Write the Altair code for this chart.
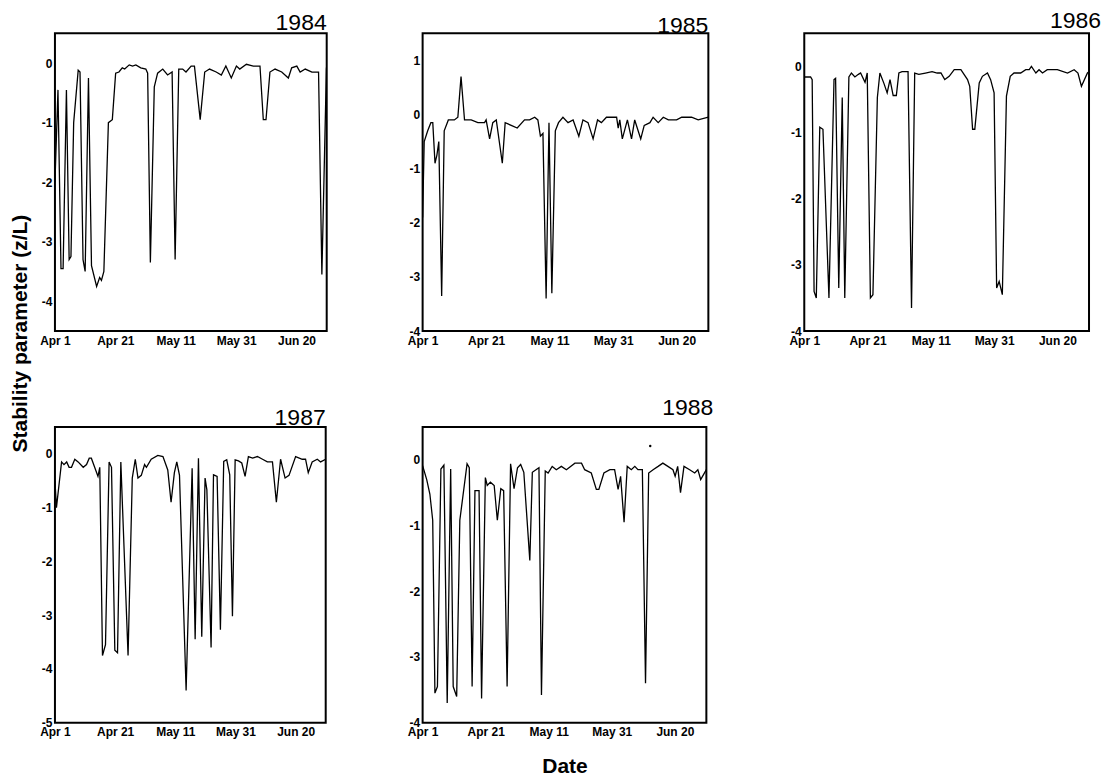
import altair as alt
import pandas as pd

FONT = "Liberation Sans"

# ---- data (day offset from Apr 1, stability parameter z/L) ----
days_1984 = [0, 1, 2, 2.7, 3.8, 4.7, 5.3, 6.2, 7.7, 8.3, 9.3, 10, 11.1, 12.1, 13.8, 14.8, 15.4, 16.2, 17.7, 19,
             20.1, 21.2, 22.3, 23.1, 24.6, 25.7, 26.8, 28.4, 30.1, 30.7, 31.6, 32.9, 34, 35.7, 37.3, 38.8, 39.8,
             41, 42.3, 43.4, 45.1, 46.2, 48.1, 49.6, 51.2, 53.4, 55.1, 56.6, 58.4, 60.1, 61.2, 63.4, 65.7, 67.9,
             69, 69.9, 71.2, 72.9, 75.1, 77.3, 78.4, 80.1, 81.2, 82.9, 85.1, 87.3, 88.4, 89.9, 90]
vals_1984 = [-2.0, -0.45, -3.45, -3.45, -0.45, -3.3, -3.25, -1.0, -0.12, -0.15, -3.3, -3.5, -0.25, -3.4, -3.75,
             -3.6, -3.65, -3.5, -1.0, -0.95, -0.17, -0.15, -0.08, -0.1, -0.03, -0.05, -0.03, -0.08, -0.1, -0.17,
             -3.35, -0.4, -0.17, -0.1, -0.2, -0.15, -3.3, -0.1, -0.1, -0.15, -0.05, -0.05, -0.95, -0.15, -0.1,
             -0.15, -0.2, -0.05, -0.25, -0.05, -0.1, -0.02, -0.05, -0.05, -0.95, -0.95, -0.15, -0.1, -0.15, -0.25,
             -0.08, -0.05, -0.15, -0.1, -0.15, -0.15, -3.55, -0.1, -0.05]

days_1985 = [0, 0.5, 1.6, 2.6, 3.2, 3.9, 4.5, 5.1, 6, 6.8, 8.1, 10, 11.1, 12.1, 13.2, 15.3, 17.4, 19.5, 20, 21.1,
             22.1, 23.2, 25.1, 26, 27.9, 29.8, 32.1, 33.7, 35.3, 36.3, 37.1, 37.9, 38.9, 39.8, 40.7, 41.8, 42.8,
             44.2, 45.8, 47.4, 49.2, 50.5, 52.1, 53.7, 55.1, 56.3, 57.9, 60, 61.1, 61.6, 62.1, 62.9, 64.5, 65.8,
             66.8, 68.7, 69.8, 71.6, 72.6, 74.2, 75.8, 77.4, 80, 81.6, 84.7, 86.8, 90]
vals_1985 = [-1.9, -0.5, -0.3, -0.15, -0.15, -0.9, -0.75, -0.5, -3.35, -0.3, -0.1, -0.1, -0.05, 0.7, -0.1, -0.1,
             -0.15, -0.15, -0.1, -0.45, -0.15, -0.1, -0.9, -0.15, -0.2, -0.25, -0.1, -0.1, -0.05, -0.1, -0.4,
             -0.35, -3.4, -0.15, -3.3, -0.3, -0.15, -0.05, -0.15, -0.1, -0.4, -0.1, -0.15, -0.45, -0.1, -0.15,
             -0.05, -0.05, -0.05, -0.25, -0.1, -0.45, -0.1, -0.45, -0.1, -0.45, -0.2, -0.15, -0.05, -0.15, -0.05,
             -0.1, -0.1, -0.05, -0.05, -0.1, -0.05]

days_1986 = [0, 2, 2.5, 3.1, 3.8, 4.9, 5.9, 7.8, 9.4, 9.9, 10.9, 12, 12.8, 14.1, 14.9, 16, 17.1, 17.8, 19.2, 19.9,
             20.9, 21.7, 23.1, 23.9, 25.2, 26.2, 27.1, 28.1, 29.1, 29.9, 30.9, 32.8, 33.9, 34.9, 36.2, 38.3, 40.4,
             42, 43.2, 44.4, 45.8, 47.4, 49.5, 51.6, 52.3, 53.2, 53.9, 55.3, 56.3, 57.9, 58.9, 60, 60.8, 61.6,
             62.6, 63.9, 65.1, 66.3, 68.4, 70, 71.1, 71.8, 73.2, 74.2, 75.3, 76.8, 80, 83.2, 85.3, 86.5, 87.6,
             89.5, 90]
vals_1986 = [-0.16, -0.16, -0.2, -3.4, -3.5, -0.92, -0.95, -3.5, -0.2, -0.18, -3.35, -0.47, -3.5, -0.16, -0.1,
             -0.16, -0.12, -0.1, -0.24, -0.1, -3.5, -3.45, -0.47, -0.1, -0.26, -0.4, -0.2, -0.44, -0.44, -0.1,
             -0.08, -0.08, -3.65, -0.1, -0.12, -0.1, -0.08, -0.1, -0.1, -0.2, -0.15, -0.05, -0.05, -0.2, -0.3,
             -0.95, -0.95, -0.25, -0.15, -0.1, -0.2, -0.4, -3.35, -3.25, -3.45, -0.45, -0.15, -0.1, -0.1, -0.05,
             -0.05, 0.0, -0.1, -0.05, -0.1, -0.05, -0.05, -0.1, -0.05, -0.1, -0.3, -0.1, -0.08]

days_1987 = [0, 0.5, 2.2, 3, 3.9, 4.7, 5.5, 6.6, 7.7, 9.4, 10.5, 11.4, 12.1, 13.2, 14.3, 14.9, 15.8, 16.8, 18,
             18.8, 19.9, 20.8, 21.9, 24.3, 25.7, 26.7, 27.6, 28.7, 29.8, 30.4, 32, 34.2, 35.9, 37.5, 38.6, 39.7,
             40.5, 41.4, 43.6, 45.6, 46.6, 47.7, 48.8, 49.9, 50.5, 51.9, 52.7, 53.9, 55, 56.1, 57.1, 58.1, 59,
             59.9, 61, 62.1, 63.2, 64.3, 65.7, 67.3, 69, 70.6, 72.3, 73.6, 75, 76.5, 77.8, 80, 82.2, 83.3, 84.2,
             85.5, 87.2, 88.3, 90]
vals_1987 = [-0.5, -1.0, -0.15, -0.2, -0.15, -0.25, -0.25, -0.1, -0.15, -0.25, -0.2, -0.08, -0.08, -0.25, -0.42,
             -0.25, -3.75, -3.55, -0.15, -0.25, -3.65, -3.7, -0.15, -3.75, -0.45, -0.1, -0.45, -0.4, -0.2, -0.25,
             -0.1, -0.03, -0.05, -0.3, -0.9, -0.35, -0.15, -0.4, -4.4, -0.27, -3.45, -0.08, -3.4, -0.45, -0.67,
             -3.6, -0.39, -0.42, -3.27, -0.14, -0.11, -0.39, -3.02, -0.11, -0.13, -0.17, -0.42, -0.05, -0.08,
             -0.05, -0.1, -0.15, -0.15, -0.9, -0.1, -0.45, -0.4, -0.05, -0.1, -0.1, -0.35, -0.15, -0.1, -0.15,
             -0.1]

days_1988 = [0, 1.3, 2.3, 3.2, 3.9, 4.7, 5.8, 6.75, 7.8, 8.9, 9.7, 10.8, 11.8, 14.1, 14.8, 15.7, 16.6, 17.9,
             18.7, 19.9, 20.5, 21.5, 22.7, 23.7, 24.8, 25.7, 26.8, 27.9, 29, 30.1, 31.1, 32.1, 34, 34.8, 36.3,
             36.9, 37.7, 38.9, 39.8, 41.1, 42.4, 44, 45.6, 48.3, 50.4, 51.4, 53.5, 55.1, 55.9, 57.5, 59.4, 60.9,
             62, 62.8, 63.9, 64.9, 66.2, 67.3, 68.3, 69.7, 70.7, 71.7, 73.1, 74.7, 76.2, 77.8, 79.4, 80.1, 80.9,
             81.8, 82.9, 84.7, 86.3, 87.3, 88.2, 90]
vals_1988 = [-0.09, -0.3, -0.52, -0.92, -3.55, -3.45, -0.14, -0.08, -3.7, -0.14, -3.45, -3.6, -0.92, -0.06,
             -0.12, -3.45, -0.47, -0.47, -3.63, -0.27, -0.39, -0.34, -0.39, -0.92, -0.44, -0.47, -3.45, -0.06,
             -0.44, -0.12, -0.07, -0.19, -1.53, -0.19, -0.14, -0.12, -3.58, -0.17, -0.2, -0.1, -0.15, -0.1,
             -0.15, -0.05, -0.05, -0.15, -0.2, -0.45, -0.45, -0.2, -0.15, -0.15, -0.45, -0.25, -0.95, -0.1,
             -0.15, -0.1, -0.15, -0.15, -3.4, -0.2, -0.15, -0.1, -0.05, -0.1, -0.15, -0.25, -0.1, -0.5, -0.1,
             -0.15, -0.2, -0.15, -0.3, -0.15]
# isolated point in 1988
dot_1988_day = [72.2]
dot_1988_val = [0.21]

x_tick_days = [0, 20, 40, 60, 80]
x_tick_labels = ["Apr 1", "Apr 21", "May 11", "May 31", "Jun 20"]


def panel(year, days, vals, ydom, yticks, width, height, t_gap, t_dx,
          ytitle=False, xtitle=False, dots=None):
    df = pd.DataFrame({"day": days, "z": vals})
    label_expr = "[" + ",".join("'%s'" % s for s in x_tick_labels) + "][round(datum.value/20)]"
    xa = dict(values=x_tick_days, labelExpr=label_expr, labelFlush=False, ticks=False,
              domain=False, grid=False, labelPadding=4, labelFontSize=12, labelFontWeight="bold",
              labelFont=FONT, labelColor="black", title=None)
    if xtitle:
        xa.update(title="Date", titleFontSize=21, titleFontWeight="bold", titleFont=FONT,
                  titleColor="black", titleBaseline="alphabetic", titleY=50)
    ya = dict(values=yticks, labelExpr="'' + datum.value", ticks=False, domain=False, grid=False,
              labelPadding=3, labelFontSize=12, labelFontWeight="bold", labelFont=FONT,
              labelColor="black", title=None)
    if ytitle:
        ya.update(title="Stability parameter (z/L)", titleX=-34, titleY=-94, titleAngle=270,
                  titleAlign="center", titleBaseline="middle", titleFontSize=21,
                  titleFontWeight="bold", titleFont=FONT, titleColor="black")
    xs = alt.Scale(domain=[0, 90], nice=False, zero=False)
    ys = alt.Scale(domain=ydom, nice=False, zero=False)
    line = alt.Chart(df).mark_line(color="black", strokeWidth=1.3, clip=True).encode(
        x=alt.X("day:Q", scale=xs, axis=alt.Axis(**xa)),
        y=alt.Y("z:Q", scale=ys, axis=alt.Axis(**ya)),
    )
    layers = [line]
    if dots is not None:
        ddf = pd.DataFrame({"day": dots[0], "z": dots[1]})
        layers.append(alt.Chart(ddf).mark_circle(color="black", size=6, opacity=1).encode(
            x=alt.X("day:Q", scale=xs), y=alt.Y("z:Q", scale=ys)))
    yr = alt.Chart(pd.DataFrame({"year": [str(year)]})).mark_text(
        align="right", baseline="alphabetic", fontSize=23, font=FONT, color="black"
    ).encode(x=alt.value(width + t_dx), y=alt.value(-t_gap), text="year:N")
    layers.append(yr)
    return alt.layer(*layers).properties(width=width, height=height)


p84 = panel(1984, days_1984, vals_1984, [-4.5, 0.5], [0, -1, -2, -3, -4], 272, 298, 3, 0)
p85 = panel(1985, days_1985, vals_1985, [-4, 1.5], [1, 0, -1, -2, -3, -4], 286, 298, 0, 0)
p86 = panel(1986, days_1986, vals_1986, [-4, 0.5], [0, -1, -2, -3, -4], 285, 298, 5, 12)
p87 = panel(1987, days_1987, vals_1987, [-5, 0.5], [0, -1, -2, -3, -4, -5], 271, 296, 2, 0, ytitle=True)
p88 = panel(1988, days_1988, vals_1988, [-4, 0.5], [0, -1, -2, -3, -4], 284, 296, 12, 7, xtitle=True,
            dots=(dot_1988_day, dot_1988_val))

chart = alt.concat(p84, p85, p86, p87, p88, columns=3, spacing={"row": 96, "column": 96},
                   bounds="flush").configure_view(
    stroke="black", strokeWidth=2
).properties(
    padding={"left": 8, "top": 9, "right": 5, "bottom": 5},
    background="white",
)

chart.save("out.html", embed_options={"renderer": "svg", "actions": False})
